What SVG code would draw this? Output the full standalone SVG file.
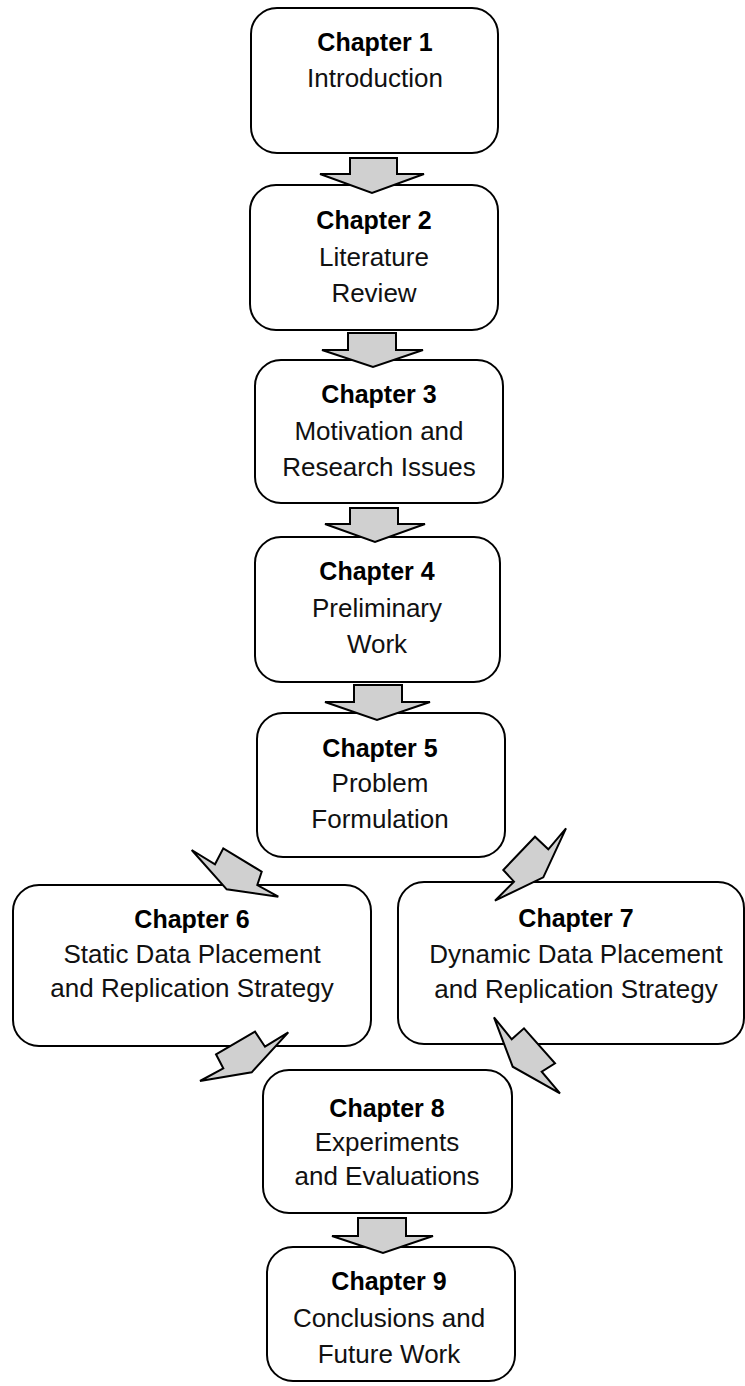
<svg xmlns="http://www.w3.org/2000/svg" width="745" height="1386" viewBox="0 0 745 1386">
<style>
.box{fill:#ffffff;stroke:#000000;stroke-width:2}
.arr{fill:#d0d0d0;stroke:#000000;stroke-width:2;stroke-linejoin:miter}
text{font-family:"Liberation Sans",Arial,sans-serif;font-size:26px;text-anchor:middle;fill:#111111}
.b{font-weight:bold;fill:#000000;font-size:25px}
</style>
<rect width="745" height="1386" fill="#ffffff"/>
<g id="ch1">
<rect class="box" x="251" y="8" width="247" height="145" rx="26"/>
<text class="b" x="375" y="51">Chapter 1</text>
<text x="375" y="87">Introduction</text>
</g>
<g id="ch2">
<rect class="box" x="250" y="185" width="248" height="145" rx="26"/>
<text class="b" x="374" y="229">Chapter 2</text>
<text x="374" y="266">Literature</text>
<text x="374" y="302">Review</text>
</g>
<g id="ch3">
<rect class="box" x="255" y="360" width="248" height="143" rx="26"/>
<text class="b" x="379" y="403">Chapter 3</text>
<text x="379" y="440">Motivation and</text>
<text x="379" y="476">Research Issues</text>
</g>
<g id="ch4">
<rect class="box" x="255" y="537" width="245" height="145" rx="26"/>
<text class="b" x="377" y="580">Chapter 4</text>
<text x="377" y="617">Preliminary</text>
<text x="377" y="653">Work</text>
</g>
<g id="ch5">
<rect class="box" x="257" y="713" width="248" height="144" rx="26"/>
<text class="b" x="380" y="757">Chapter 5</text>
<text x="380" y="792">Problem</text>
<text x="380" y="828">Formulation</text>
</g>
<g id="ch6">
<rect class="box" x="13" y="885" width="358" height="161" rx="26"/>
<text class="b" x="192" y="928">Chapter 6</text>
<text x="192" y="963">Static Data Placement</text>
<text x="192" y="997">and Replication Strategy</text>
</g>
<g id="ch7">
<rect class="box" x="398" y="882" width="346" height="162" rx="26"/>
<text class="b" x="576" y="927">Chapter 7</text>
<text x="576" y="963">Dynamic Data Placement</text>
<text x="576" y="998">and Replication Strategy</text>
</g>
<g id="ch8">
<rect class="box" x="263" y="1070" width="249" height="143" rx="26"/>
<text class="b" x="387" y="1117">Chapter 8</text>
<text x="387" y="1151">Experiments</text>
<text x="387" y="1185">and Evaluations</text>
</g>
<g id="ch9">
<rect class="box" x="267" y="1247" width="248" height="134" rx="26"/>
<text class="b" x="389" y="1290">Chapter 9</text>
<text x="389" y="1327">Conclusions and</text>
<text x="389" y="1363">Future Work</text>
</g>
<g id="connectors">
<polygon class="arr" points="350,158 397,158 397,174 424,174 372,193 320,174 350,174"/>
<polygon class="arr" points="348,333 396,333 396,350 423,350 373,367 322,350 348,350"/>
<polygon class="arr" points="350,508 398,508 398,524 425,524 375,542 325,524 350,524"/>
<polygon class="arr" points="354,685 402,685 402,702 430,702 377,720 325,702 354,702"/>
<polygon class="arr" points="191.7,850 215,864.3 223.3,848.3 261.7,871.7 257.3,885 278.3,896.7 226.7,889.3"/>
<polygon class="arr" points="566,828.3 548.3,849.3 535,836.7 503.3,870 514,881.7 495,900.7 543.3,877.3"/>
<polygon class="arr" points="288.3,1032.3 265,1046.7 255,1031.7 216,1054.3 223.3,1068.3 200,1081 251.7,1072.3"/>
<polygon class="arr" points="494,1017.3 511.7,1039.3 524,1028.3 555,1063.3 541.7,1071.7 560,1093.3 512.7,1066.7"/>
<polygon class="arr" points="358,1218 406,1218 406,1236 433,1236 383,1253 332,1236 358,1236"/>
</g>
</svg>
